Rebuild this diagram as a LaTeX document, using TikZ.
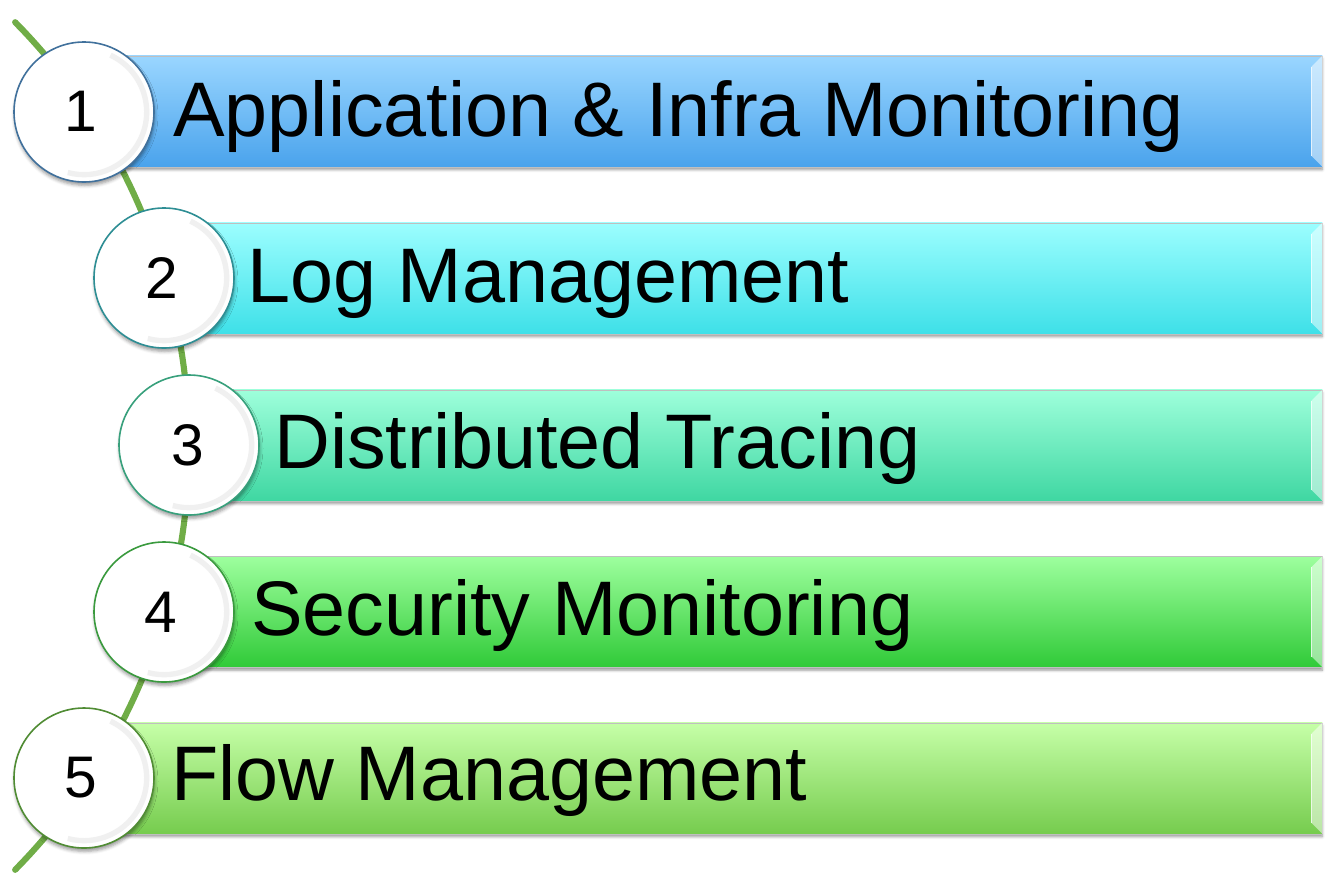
\documentclass[tikz,border=0pt]{standalone}
\usepackage{fontspec}
\setmainfont{Liberation Sans}
\usetikzlibrary{calc,shadows.blur}

% bar gradients (top / bottom)
\definecolor{baraT}{HTML}{9AD6FF}\definecolor{baraB}{HTML}{4AA3EC}
\definecolor{barbT}{HTML}{9CFEFF}\definecolor{barbB}{HTML}{3EE0E8}
\definecolor{barcT}{HTML}{9EFFDB}\definecolor{barcB}{HTML}{3FD7A2}
\definecolor{bardT}{HTML}{9EFF9E}\definecolor{bardB}{HTML}{30CA38}
\definecolor{bareT}{HTML}{C6FFA8}\definecolor{bareB}{HTML}{76CC4E}
% disc outlines
\definecolor{rimA}{HTML}{41719C}
\definecolor{rimB}{HTML}{2E8E94}
\definecolor{rimC}{HTML}{38A07C}
\definecolor{rimD}{HTML}{3A9A3E}
\definecolor{rimE}{HTML}{508C34}
\definecolor{vine}{HTML}{70AD47}

\begin{document}
\begin{tikzpicture}[x=0.75pt,y=-0.75pt,
  vineline/.style={draw=vine,line width=4.6pt,line cap=round},
  bar/.style={rectangle,anchor=north west,inner sep=0pt,
    minimum height=83.25pt,draw=black!25,line width=0.4pt,
    blur shadow={shadow xshift=0pt,shadow yshift=-2.2pt,shadow blur radius=2pt,shadow opacity=40}},
  bevel/.style={fill=white,fill opacity=0.5},
  bevelline/.style={draw=white,line width=0.6pt,opacity=0.8},
  disc/.style={circle,minimum size=105pt,inner sep=0pt,fill=white,line width=1.2pt,
    blur shadow={shadow xshift=0.5pt,shadow yshift=-2.5pt,shadow blur radius=2.5pt,shadow opacity=40}},
  digit/.style={inner sep=0pt,font=\fontsize{44}{46}\selectfont},
  ring/.style={draw=black!6,line width=4pt},
  caption/.style={anchor=base west,inner sep=0pt,font=\fontsize{58}{60}\selectfont}]

\useasboundingbox (0,0) rectangle (1333,889);

% the green stem running behind the discs
\draw[vineline] plot[domain=-44.6:44.6,samples=90]
  ({-414.6+603.6*cos(\x)},{446+603.6*sin(\x)});

% bars
\node[bar,top color=baraT,bottom color=baraB,minimum width={(1322-84)*0.75pt}] (b1) at (84,55.5) {};
\node[bar,top color=barbT,bottom color=barbB,minimum width={(1322-164)*0.75pt}] (b2) at (164,222.5) {};
\node[bar,top color=barcT,bottom color=barcB,minimum width={(1322-189)*0.75pt}] (b3) at (189,389.5) {};
\node[bar,top color=bardT,bottom color=bardB,minimum width={(1322-164)*0.75pt}] (b4) at (164,556) {};
\node[bar,top color=bareT,bottom color=bareB,minimum width={(1322-84)*0.75pt}] (b5) at (84,722.5) {};

% bevelled right ends
\foreach \b in {b1,b2,b3,b4,b5}{
  \fill[bevel] (\b.north east) -- ++(-11,11) -- ($(\b.south east)+(-11,-11)$) -- (\b.south east) -- cycle;
  \draw[bevelline] ($(\b.north east)+(-11,11)$) -- ($(\b.south east)+(-11,-11)$);
}

% captions
\node[caption] (t1) at (173,136) {Application \& Infra Monitoring};
\node[caption] (t2) at (247,302) {Log Management};
\node[caption] (t3) at (274,468) {Distributed Tracing};
\node[caption] (t4) at (251,635) {Security Monitoring};
\node[caption] (t5) at (171,800) {Flow Management};

% numbered discs
\node[disc,draw=rimA] (c1) at (84,112) {};
\node[disc,draw=rimB] (c2) at (164,278) {};
\node[disc,draw=rimC] (c3) at (189,445) {};
\node[disc,draw=rimD] (c4) at (164,612) {};
\node[disc,draw=rimE] (c5) at (84,778) {};

% soft inner rim on each disc
\foreach \c in {c1,c2,c3,c4,c5}{
  \draw[ring] ($(\c.center)+(65:47pt)$) arc[start angle=65,end angle=-105,radius=47pt];
}

% digits
\node[digit] (n1) at ($(c1.center)+(-3,-1)$) {1};
\node[digit] (n2) at ($(c2.center)+(-2,0)$) {2};
\node[digit] (n3) at ($(c3.center)+(-1,0)$) {3};
\node[digit] (n4) at ($(c4.center)+(-3,0)$) {4};
\node[digit] (n5) at ($(c5.center)+(-3,0)$) {5};
\end{tikzpicture}
\end{document}
